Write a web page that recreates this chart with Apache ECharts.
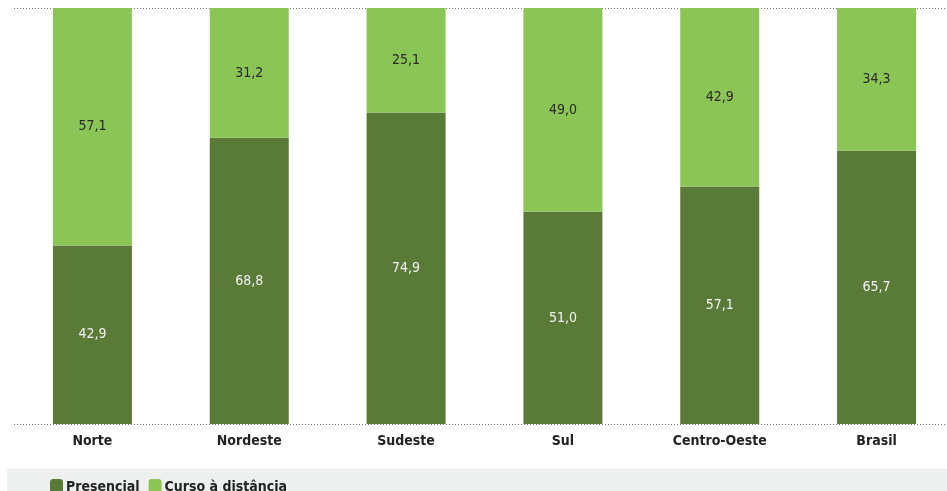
<!DOCTYPE html>
<html><head><meta charset="utf-8">
<script src="https://cdn.jsdelivr.net/npm/echarts@6/dist/echarts.min.js"></script>
<style>html,body{margin:0;padding:0;background:#fff;overflow:hidden;width:947px;height:491px}#c{width:960px;height:491px}</style>
</head><body><div id="c"></div>
<script>
const categories = ['Norte', 'Nordeste', 'Sudeste', 'Sul', 'Centro-Oeste', 'Brasil'];
const presencial = [42.9, 68.8, 74.9, 51.0, 57.1, 65.7];
const distancia = [57.1, 31.2, 25.1, 49.0, 42.9, 34.3];
const seriesNames = ['Presencial', 'Curso à distância'];

const FONT = "'Liberation Sans Narrow', 'DejaVu Sans Condensed', sans-serif";
const fmt = p => p.value.toFixed(1).replace('.', ',');
const chart = echarts.init(document.getElementById('c'), null, {renderer: 'canvas'});
chart.setOption({
  animation: false,
  textStyle: {fontFamily: FONT},
  graphic: [{type: 'rect', z: -10, shape: {x: 7, y: 469, width: 940, height: 22}, style: {fill: '#eef0ef'}}],
  grid: {left: 14, top: 8, width: 941, bottom: 67},
  legend: {
    left: 45, top: 474, itemWidth: 13, itemHeight: 16, itemGap: 9,
    textStyle: {fontFamily: FONT, fontWeight: 'bold', fontSize: 14, color: '#222', padding: [0, 0, 0, -2]},
    data: seriesNames
  },
  xAxis: {
    type: 'category', data: categories,
    axisLine: {show: false}, axisTick: {show: false},
    axisLabel: {fontFamily: FONT, fontWeight: 'bold', fontSize: 14, color: '#222', margin: 10}
  },
  yAxis: {
    type: 'value', min: 0, max: 100, interval: 100,
    axisLabel: {show: false}, axisLine: {show: false}, axisTick: {show: false},
    splitLine: {show: true, lineStyle: {color: '#777', type: [1, 2], width: 1}}
  },
  series: [
    {name: seriesNames[0], type: 'bar', stack: 't', data: presencial, barWidth: 79,
     itemStyle: {color: '#5a7a38'},
     label: {show: true, position: 'inside', formatter: fmt, color: '#f2f2f2', fontFamily: FONT, fontSize: 14}},
    {name: seriesNames[1], type: 'bar', stack: 't', data: distancia, barWidth: 79,
     itemStyle: {color: '#8bc556'},
     label: {show: true, position: 'inside', formatter: fmt, color: '#2a2a2a', fontFamily: FONT, fontSize: 14}}
  ]
});
</script></body></html>
